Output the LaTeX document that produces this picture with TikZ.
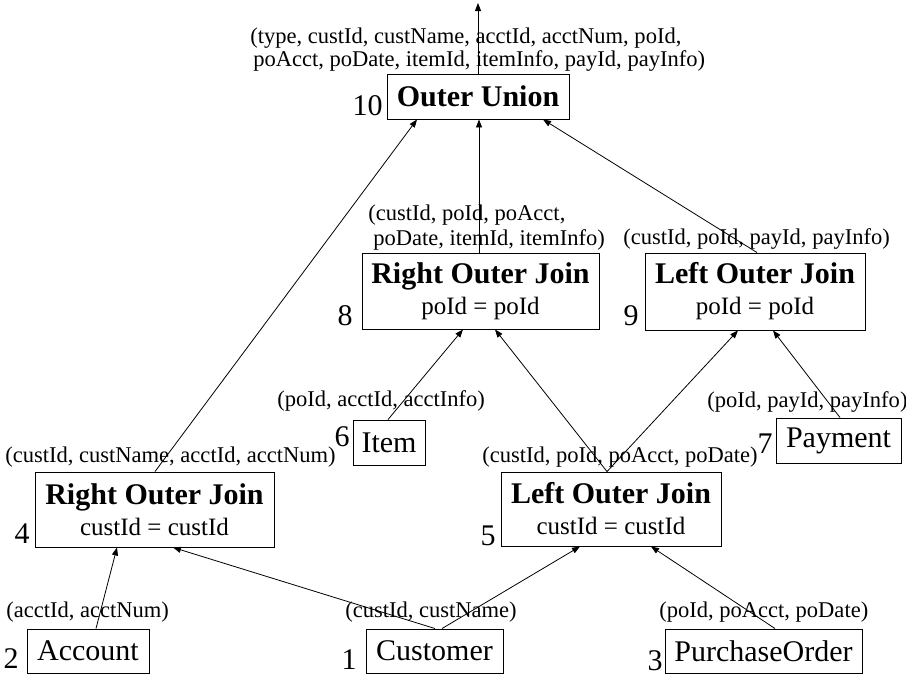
\documentclass[tikz,border=0pt]{standalone}
\usepackage{fontspec}
\setmainfont{Liberation Serif}
\usetikzlibrary{arrows.meta,calc}
\begin{document}
\begin{tikzpicture}[x=0.75pt,y=-0.75pt,
  box/.style={draw, line width=0.7pt, inner sep=0pt, align=center},
  opbox/.style={box, font=\fontsize{22.5}{23.25}\selectfont},
  relbox/.style={box, font=\fontsize{22.5}{24}\selectfont},
  lbl/.style={inner sep=0pt, anchor=base west, font=\fontsize{16.9}{18}\selectfont},
  num/.style={inner sep=0pt, anchor=base east, font=\fontsize{22.5}{24}\selectfont},
  arr/.style={line width=0.6pt, -{Triangle[length=6pt,width=4.5pt]}}]
\path[use as bounding box] (0,0) rectangle (906,678);

% operator boxes
\node[opbox, minimum width=136.5pt, minimum height=33.75pt] (OU) at (478,96.5) {\bfseries Outer Union};
\node[opbox, minimum width=177.75pt, minimum height=57pt] (RO8) at (480.5,291) {{\bfseries Right Outer Join}\\{\fontsize{18.75}{23.25}\selectfont poId = poId}};
\node[opbox, minimum width=165pt, minimum height=57.75pt] (LO9) at (755,291.5) {{\bfseries Left Outer Join}\\{\fontsize{18.75}{23.25}\selectfont poId = poId}};
\node[opbox, minimum width=179.25pt, minimum height=56.25pt] (RO4) at (154.5,509.5) {{\bfseries Right Outer Join}\\{\fontsize{18.75}{23.25}\selectfont custId = custId}};
\node[opbox, minimum width=165pt, minimum height=55.5pt] (LO5) at (611,509) {{\bfseries Left Outer Join}\\{\fontsize{18.75}{23.25}\selectfont custId = custId}};

% relation boxes
\node[relbox, minimum width=54pt, minimum height=33.75pt] (Item) at (389,442.5) {Item};
\node[relbox, minimum width=93.75pt, minimum height=33.75pt] (Pay) at (838.5,440.5) {Payment};
\node[relbox, minimum width=91.5pt, minimum height=33pt] (Acc) at (88,651) {Account};
\node[relbox, minimum width=102.75pt, minimum height=33pt] (Cust) at (434.5,651) {Customer};
\node[relbox, minimum width=147.75pt, minimum height=33pt] (PO) at (763.5,651) {PurchaseOrder};

% numbers
\node[num] (n10) at (383,115) {10};
\node[num] (n8) at (353,325) {8};
\node[num] (n9) at (639,325) {9};
\node[num] (n6) at (350,446) {6};
\node[num] (n7) at (773,453) {7};
\node[num] (n4) at (30,543) {4};
\node[num] (n5) at (496,545) {5};
\node[num] (n2) at (19,668) {2};
\node[num] (n1) at (357,669) {1};
\node[num] (n3) at (663,670) {3};

% schema labels
\node[lbl] (lOUa) at (250,43) {(type, custId, custName, acctId, acctNum, poId,};
\node[lbl] (lOUb) at (253,66) {poAcct, poDate, itemId, itemInfo, payId, payInfo)};
\node[lbl] (l8a) at (368,220) {(custId, poId, poAcct,};
\node[lbl] (l8b) at (373,245) {poDate, itemId, itemInfo)};
\node[lbl] (l9) at (623,244) {(custId, poId, payId, payInfo)};
\node[lbl] (l6) at (277,406) {(poId, acctId, acctInfo)};
\node[lbl] (l7) at (707,407) {(poId, payId, payInfo)};
\node[lbl] (l4) at (5,462) {(custId, custName, acctId, acctNum)};
\node[lbl] (l5) at (482,462) {(custId, poId, poAcct, poDate)};
\node[lbl] (l2) at (6,617) {(acctId, acctNum)};
\node[lbl] (l1) at (345,617) {(custId, custName)};
\node[lbl] (l3) at (659,617) {(poId, poAcct, poDate)};

% connectors
\coordinate (top) at (478,3);
\draw[arr] ($(Acc.north)+(8,0)$) -- ($(RO4.south)+(-37.5,0)$);
\draw[arr] ($(Cust.north)+(0.5,0)$) -- ($(RO4.south)+(18.5,0)$);
\draw[arr] ($(Cust.north)+(7.5,0)$) -- ($(LO5.south)+(-31,0)$);
\draw[arr] ($(PO.north)+(11.5,0)$) -- ($(LO5.south)+(40,0)$);
\draw[arr] ($(RO4.north)+(0.5,0)$) -- ($(OU.south)+(-61,0)$);
\draw[arr] ($(Item.north)+(-1,0)$) -- ($(RO8.south)+(-17.5,0)$);
\draw[arr] ($(LO5.north)+(-4,0)$) -- ($(RO8.south)+(14.5,0)$);
\draw[arr] ($(LO5.north)+(-4,0)$) -- ($(LO9.south)+(-17,0)$);
\draw[arr] ($(Pay.north)+(1.5,0)$) -- ($(LO9.south)+(18,0)$);
\draw[arr] ($(RO8.north)+(-1.5,0)$) -- ($(OU.south)+(1,0)$);
\draw[arr] ($(LO9.north)+(2,0)$) -- ($(OU.south)+(65,0)$);
\draw[arr] (OU.north) -- (top);
\end{tikzpicture}
\end{document}
